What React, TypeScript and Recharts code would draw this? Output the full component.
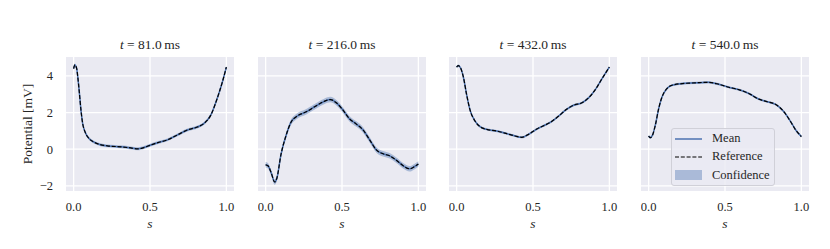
import React from "react";
import {
  ComposedChart,
  Line,
  Area,
  XAxis,
  YAxis,
  CartesianGrid,
  Legend,
} from "recharts";

// time stamps of the four snapshots
const times = [81.0, 216.0, 432.0, 540.0];

// arc-length positions and potentials read for each snapshot
const s81 = [0, 0.008, 0.02, 0.026, 0.037, 0.048, 0.059, 0.074, 0.096, 0.13, 0.17, 0.222, 0.31, 0.375, 0.42, 0.46, 0.505, 0.56, 0.614, 0.68, 0.745, 0.81, 0.854, 0.898, 0.94, 0.974, 1.0];
const v81 = [4.4, 4.6, 4.4, 4.03, 3.13, 2.13, 1.41, 0.96, 0.63, 0.4, 0.26, 0.18, 0.13, 0.07, 0.02, 0.09, 0.23, 0.38, 0.51, 0.78, 1.05, 1.21, 1.41, 1.86, 2.77, 3.67, 4.48];

const s216 = [0, 0.015, 0.037, 0.059, 0.074, 0.1, 0.135, 0.168, 0.2, 0.266, 0.332, 0.386, 0.424, 0.463, 0.507, 0.55, 0.594, 0.638, 0.681, 0.725, 0.769, 0.812, 0.856, 0.9, 0.943, 0.976, 1.0];
const v216 = [-0.85, -0.9, -1.3, -1.79, -1.57, -0.31, 0.78, 1.5, 1.77, 2.04, 2.37, 2.62, 2.71, 2.53, 2.13, 1.65, 1.37, 1.05, 0.51, -0.04, -0.25, -0.36, -0.6, -0.9, -1.07, -0.94, -0.81];

const s432 = [0, 0.01, 0.026, 0.044, 0.066, 0.088, 0.12, 0.153, 0.197, 0.263, 0.328, 0.383, 0.427, 0.47, 0.525, 0.569, 0.613, 0.668, 0.722, 0.766, 0.82, 0.864, 0.908, 0.952, 1.0];
const v432 = [4.48, 4.56, 4.43, 3.94, 2.95, 2.13, 1.54, 1.23, 1.08, 0.99, 0.85, 0.72, 0.65, 0.81, 1.1, 1.28, 1.46, 1.81, 2.19, 2.4, 2.53, 2.8, 3.25, 3.85, 4.48];

const s540 = [0, 0.01, 0.026, 0.044, 0.066, 0.088, 0.12, 0.153, 0.22, 0.306, 0.39, 0.46, 0.525, 0.59, 0.656, 0.722, 0.777, 0.832, 0.886, 0.93, 0.963, 1.0];
const v540 = [0.72, 0.63, 0.78, 1.32, 2.22, 2.86, 3.31, 3.49, 3.58, 3.62, 3.65, 3.54, 3.38, 3.25, 3.04, 2.73, 2.59, 2.44, 2.04, 1.5, 1.05, 0.69];

// half width of the confidence band, per snapshot
const spread = [0.08, 0.15, 0.06, 0.06];

const xTicks = [0, 0.5, 1.0];
const yTicks = [-2, 0, 2, 4];

const panels = [
  { s: s81, v: v81 },
  { s: s216, v: v216 },
  { s: s432, v: v432 },
  { s: s540, v: v540 },
];

const FONT = "'Liberation Serif', serif";
const TEXT = "#262626";
const BLUE = "#4C72B0";
const BG = "#EAEAF2";

const PLOT_LEFT = [66, 258, 449, 641];
const PLOT_W = 168;
const PLOT_TOP = 57;
const Y_AXIS_W = 58;

function fmtY(v: number) {
  return v < 0 ? `\u2212${Math.abs(v)}` : `${v}`;
}

function scaled(axis: any, ticks: number[]) {
  const sc = axis && axis.scale;
  if (typeof sc === "function") return ticks.map((t) => sc(t));
  if (sc && typeof sc.map === "function") return ticks.map((t) => sc.map(t));
  return [];
}

function LegendBox() {
  const row = { display: "flex", alignItems: "center", height: 18.2 };
  const sample = { width: 27, height: 10, marginRight: 10 };
  return (
    <div
      style={{
        border: "1px solid #d0d0d8",
        borderRadius: 3,
        background: "rgba(234,234,242,0.8)",
        padding: "1px 0 1px 3px",
        width: 104,
        fontFamily: FONT,
        fontSize: 12.5,
        color: TEXT,
        boxSizing: "border-box",
      }}
    >
      <div style={row}>
        <svg style={sample}>
          <line x1={0} x2={27} y1={5} y2={5} stroke={BLUE} strokeWidth={1.5} />
        </svg>
        Mean
      </div>
      <div style={row}>
        <svg style={sample}>
          <line x1={0} x2={27} y1={5} y2={5} stroke="#000" strokeWidth={1.2} strokeDasharray="4 1.8" />
        </svg>
        Reference
      </div>
      <div style={row}>
        <svg style={sample}>
          <rect x={0} y={0} width={27} height={10} fill={BLUE} fillOpacity={0.4} />
        </svg>
        Confidence
      </div>
    </div>
  );
}

function Panel({ idx }: { idx: number }) {
  const { s, v } = panels[idx];
  const w = spread[idx];
  const data = s.map((x, i) => ({
    s: x,
    mean: v[i],
    ref: v[i],
    band: [v[i] - w, v[i] + w],
  }));
  const first = idx === 0;
  const yW = first ? Y_AXIS_W : 0;
  const chartLeft = PLOT_LEFT[idx] - yW;
  const width = yW + PLOT_W + 4;

  return (
    <div style={{ position: "absolute", left: chartLeft, top: 0 }}>
      <div
        style={{
          position: "absolute",
          left: yW,
          width: PLOT_W,
          top: 36,
          textAlign: "center",
          fontFamily: FONT,
          fontSize: 13.5,
          lineHeight: "18px",
          color: TEXT,
          whiteSpace: "nowrap",
        }}
      >
        <i>t</i> = {times[idx].toFixed(1)}&thinsp;ms
      </div>
      <ComposedChart
        width={width}
        height={249}
        data={data}
        margin={{ top: PLOT_TOP, right: 4, left: 0, bottom: 18 }}
      >
        <CartesianGrid
          fill={BG}
          stroke="#ffffff"
          strokeWidth={1.3}
          horizontalCoordinatesGenerator={(p: any) => scaled(p.yAxis, yTicks)}
          verticalCoordinatesGenerator={(p: any) => scaled(p.xAxis, xTicks)}
        />
        <XAxis
          dataKey="s"
          type="number"
          domain={[-0.05, 1.05]}
          ticks={xTicks}
          interval={0}
          allowDataOverflow
          axisLine={false}
          tickLine={false}
          tickSize={6}
          tickMargin={5}
          height={40}
          tickFormatter={(t: number) => t.toFixed(1)}
          tick={{ fontSize: 12.5, fill: TEXT, fontFamily: FONT }}
          label={{
            content: ({ viewBox }: any) => (
              <text
                x={viewBox.x + viewBox.width / 2}
                y={viewBox.y + 32}
                textAnchor="middle"
                dominantBaseline="central"
                fontFamily={FONT}
                fontStyle="italic"
                fontSize={13.5}
                fill={TEXT}
              >
                s
              </text>
            ),
          }}
        />
        <YAxis
          type="number"
          domain={[-2.28, 5.03]}
          ticks={yTicks}
          interval={0}
          allowDataOverflow
          width={yW}
          axisLine={false}
          tickLine={false}
          tick={first ? { fontSize: 12.5, fill: TEXT, fontFamily: FONT } : () => <g />}
          tickSize={6}
          tickMargin={7}
          tickFormatter={fmtY}
          label={
            first
              ? {
                  content: ({ viewBox }: any) => {
                    const cx = viewBox.x + 19;
                    const cy = viewBox.y + viewBox.height / 2;
                    return (
                      <text
                        x={cx}
                        y={cy}
                        textAnchor="middle"
                        dominantBaseline="central"
                        transform={`rotate(-90 ${cx} ${cy})`}
                        fontFamily={FONT}
                        fontSize={13.5}
                        fill={TEXT}
                      >
                        Potential [mV]
                      </text>
                    );
                  },
                }
              : undefined
          }
        />
        <Area
          dataKey="band"
          type="monotone"
          stroke="none"
          fill={BLUE}
          fillOpacity={0.4}
          isAnimationActive={false}
        />
        <Line
          dataKey="mean"
          type="monotone"
          stroke={BLUE}
          strokeWidth={1.5}
          dot={false}
          isAnimationActive={false}
        />
        <Line
          dataKey="ref"
          type="monotone"
          stroke="#000000"
          strokeWidth={1.2}
          strokeDasharray="4 1.8"
          dot={false}
          isAnimationActive={false}
        />
        {idx === 3 && (
          <Legend
            layout="vertical"
            align="center"
            verticalAlign="middle"
            content={() => <LegendBox />}
            wrapperStyle={{ left: 671 - chartLeft, top: 127.7, width: 104 }}
          />
        )}
      </ComposedChart>
    </div>
  );
}

export default function App() {
  return (
    <div style={{ position: "absolute", left: 0, top: 0, width: 830, height: 249, background: "#fff" }}>
      {panels.map((_, i) => (
        <Panel key={i} idx={i} />
      ))}
    </div>
  );
}
